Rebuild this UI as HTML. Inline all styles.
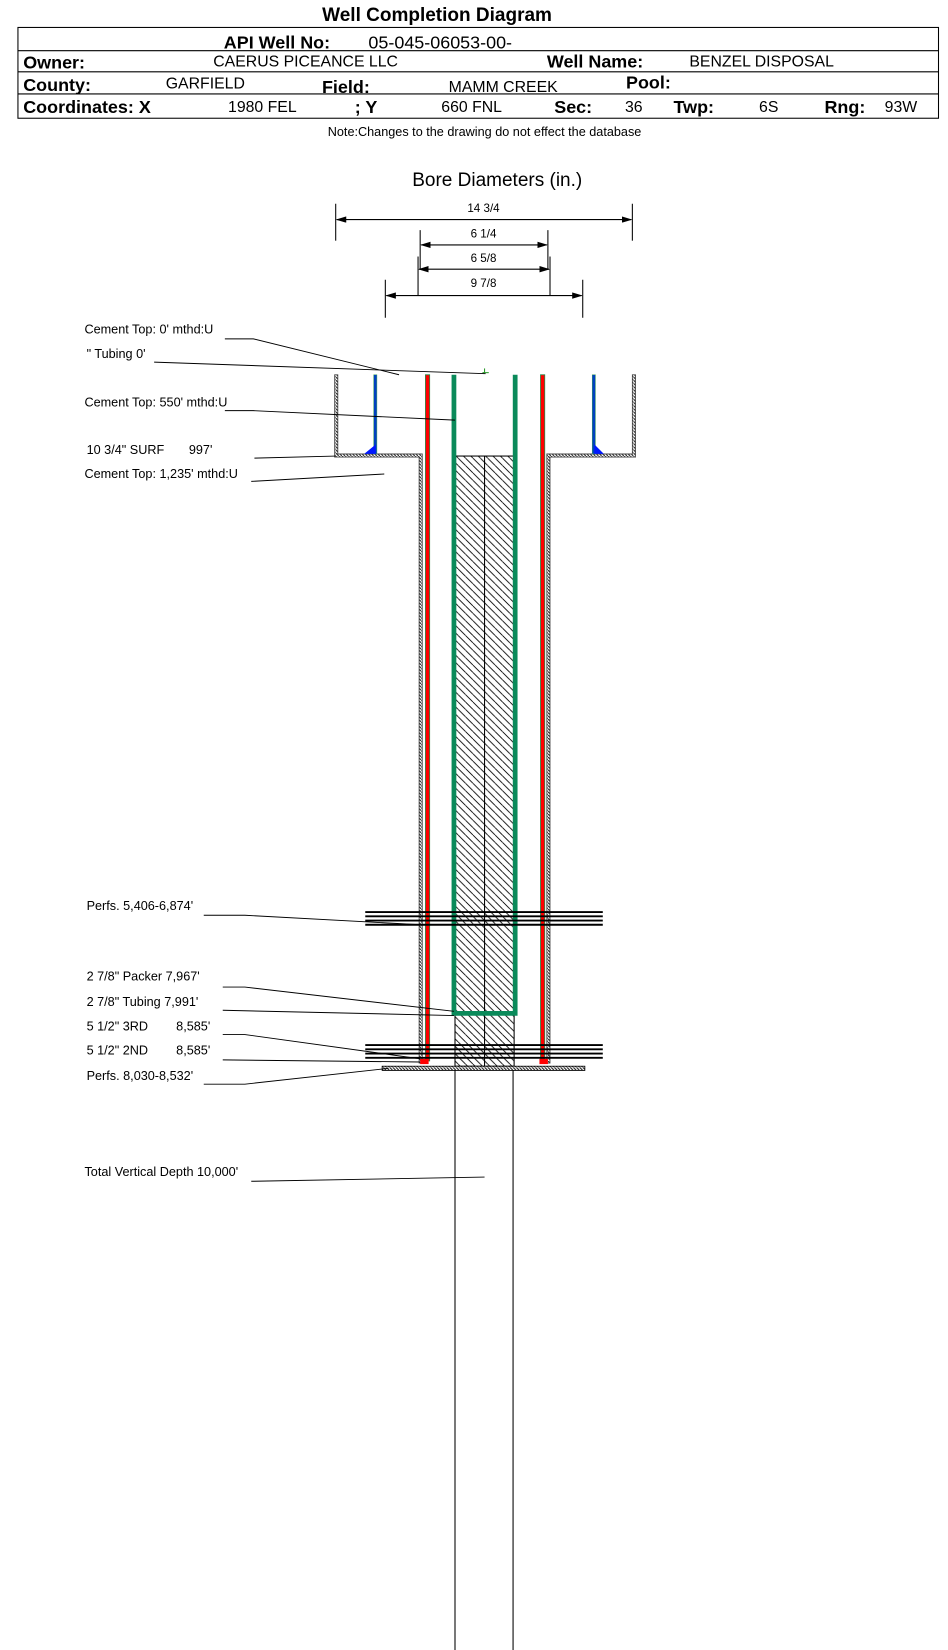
<!DOCTYPE html>
<html><head><meta charset="utf-8"><style>
html,body{margin:0;padding:0;background:#fff;}
svg{display:block;}
text{font-family:"Liberation Sans",sans-serif;fill:#000;}
.b{font-weight:bold;}
</style></head><body>
<svg width="948" height="1650" viewBox="0 0 898 1563" preserveAspectRatio="none" xmlns="http://www.w3.org/2000/svg">
<defs>
<pattern id="h" width="7" height="7" patternUnits="userSpaceOnUse">
<rect width="7" height="7" fill="#fff"/>
<path d="M-1,-1 L8,8 M-4,3 L0,7 M3,-4 L7,0" stroke="#000" stroke-width="0.8"/>
</pattern>
<pattern id="w" width="3" height="3" patternUnits="userSpaceOnUse">
<rect width="3" height="3" fill="#fff"/>
<path d="M0,0 L3,3" stroke="#222" stroke-width="1.1"/>
</pattern>
<marker id="a" markerWidth="10" markerHeight="6" refX="9" refY="3" orient="auto" markerUnits="userSpaceOnUse"><path d="M0,0 L10,3 L0,6z" fill="#000"/></marker>
<marker id="s" markerWidth="10" markerHeight="6" refX="1" refY="3" orient="auto" markerUnits="userSpaceOnUse"><path d="M10,0 L0,3 L10,6z" fill="#000"/></marker>
</defs>

<text x="414" y="20" font-size="18" class="b" text-anchor="middle">Well Completion Diagram</text>
<g fill="none" stroke="#000" stroke-width="1">
<rect x="17" y="26" width="872" height="86"/>
<line x1="17" y1="48" x2="889" y2="48"/>
<line x1="17" y1="68" x2="889" y2="68"/>
<line x1="17" y1="89" x2="889" y2="89"/>
</g>
<text x="212" y="46" font-size="17" class="b">API Well No:</text>
<text x="349" y="46" font-size="17">05-045-06053-00-</text>
<text x="22" y="65" font-size="17" class="b">Owner:</text>
<text x="202" y="63" font-size="15">CAERUS PICEANCE LLC</text>
<text x="518" y="64" font-size="17" class="b">Well Name:</text>
<text x="653" y="63" font-size="15">BENZEL DISPOSAL</text>
<text x="22" y="86" font-size="17" class="b">County:</text>
<text x="157" y="84" font-size="15">GARFIELD</text>
<text x="305" y="88" font-size="17" class="b">Field:</text>
<text x="425" y="87" font-size="15">MAMM CREEK</text>
<text x="593" y="84" font-size="17" class="b">Pool:</text>
<text x="22" y="107" font-size="17" class="b">Coordinates: X</text>
<text x="216" y="106" font-size="15">1980 FEL</text>
<text x="336" y="107" font-size="17" class="b">; Y</text>
<text x="418" y="106" font-size="15">660 FNL</text>
<text x="525" y="107" font-size="17" class="b">Sec:</text>
<text x="592" y="106" font-size="15">36</text>
<text x="638" y="107" font-size="17" class="b">Twp:</text>
<text x="719" y="106" font-size="15">6S</text>
<text x="781" y="107" font-size="17" class="b">Rng:</text>
<text x="838" y="106" font-size="15">93W</text>
<text x="459" y="129" font-size="12" text-anchor="middle">Note:Changes to the drawing do not effect the database</text>

<text x="471" y="176" font-size="18" text-anchor="middle">Bore Diameters (in.)</text>
<g stroke="#000" stroke-width="1" font-size="11">
<line x1="318" y1="193" x2="318" y2="228"/><line x1="599" y1="193" x2="599" y2="228"/>
<line x1="319" y1="208" x2="598" y2="208" marker-end="url(#a)" marker-start="url(#s)"/>
<line x1="398" y1="218" x2="398" y2="255"/><line x1="519" y1="218" x2="519" y2="255"/>
<line x1="399" y1="232" x2="518" y2="232" marker-end="url(#a)" marker-start="url(#s)"/>
<line x1="396" y1="243" x2="396" y2="280"/><line x1="521" y1="243" x2="521" y2="280"/>
<line x1="397" y1="255" x2="520" y2="255" marker-end="url(#a)" marker-start="url(#s)"/>
<line x1="365" y1="265" x2="365" y2="301"/><line x1="552" y1="265" x2="552" y2="301"/>
<line x1="366" y1="280" x2="551" y2="280" marker-end="url(#a)" marker-start="url(#s)"/>
</g>
<g font-size="11" text-anchor="middle">
<text x="458" y="201">14 3/4</text>
<text x="458" y="225">6 1/4</text>
<text x="458" y="248">6 5/8</text>
<text x="458" y="272">9 7/8</text>
</g>

<rect x="431" y="432" width="56" height="578" fill="url(#h)" stroke="#000" stroke-width="1"/>
<line x1="459" y1="432" x2="459" y2="1010" stroke="#000"/>
<path d="M317,355 L317,433 L397,433 L397,1007 L400,1007 L400,430 L320,430 L320,355Z" fill="url(#w)" stroke="#444" stroke-width="0.8"/>
<path d="M602,355 L602,433 L521,433 L521,1007 L518,1007 L518,430 L599,430 L599,355Z" fill="url(#w)" stroke="#444" stroke-width="0.8"/>
<rect x="354" y="355" width="3" height="75" fill="#0040c0" stroke="#3a9a5a" stroke-width="0.5"/>
<path d="M345,430 L356,421 L356,430Z" fill="#0018ff"/>
<rect x="561" y="355" width="3" height="75" fill="#0040c0" stroke="#3a9a5a" stroke-width="0.5"/>
<path d="M563,421 L572,430 L563,430Z" fill="#0018ff"/>
<rect x="403" y="355" width="4" height="650" fill="#ff0000" stroke="#2a8a4a" stroke-width="0.8"/>
<rect x="512" y="355" width="4" height="650" fill="#ff0000" stroke="#2a8a4a" stroke-width="0.8"/>
<rect x="398" y="1003" width="8" height="5" fill="#ff0000"/>
<rect x="511" y="1003" width="8" height="5" fill="#ff0000"/>
<path d="M430,355 L430,960 L488,960 L488,355" fill="none" stroke="#0a8a5a" stroke-width="4.5"/>
<line x1="457" y1="353" x2="463" y2="353" stroke="#2a9a2a"/>
<line x1="459" y1="349" x2="459" y2="353" stroke="#2a9a2a"/>
<g stroke="#000" stroke-width="1.8">
<line x1="346" y1="864" x2="571" y2="864"/><line x1="346" y1="868" x2="571" y2="868"/>
<line x1="346" y1="872" x2="571" y2="872"/><line x1="346" y1="876" x2="571" y2="876"/>
<line x1="346" y1="990" x2="571" y2="990"/><line x1="346" y1="994" x2="571" y2="994"/>
<line x1="346" y1="998" x2="571" y2="998"/><line x1="346" y1="1002" x2="571" y2="1002"/>
</g>
<rect x="362" y="1010" width="192" height="4" fill="url(#w)" stroke="#000" stroke-width="0.8"/>
<line x1="431" y1="1014" x2="431" y2="1563" stroke="#000"/>
<line x1="486" y1="1014" x2="486" y2="1563" stroke="#000"/>

<g font-size="12">
<text x="80" y="316">Cement Top: 0' mthd:U</text>
<text x="82" y="339">" Tubing 0'</text>
<text x="80" y="385">Cement Top: 550' mthd:U</text>
<text x="82" y="430">10 3/4" SURF&#160;&#160;&#160;&#160;&#160;&#160;&#160;997'</text>
<text x="80" y="453">Cement Top: 1,235' mthd:U</text>
<text x="82" y="862">Perfs. 5,406-6,874'</text>
<text x="82" y="929">2 7/8" Packer 7,967'</text>
<text x="82" y="953">2 7/8" Tubing 7,991'</text>
<text x="82" y="976">5 1/2" 3RD&#160;&#160;&#160;&#160;&#160;&#160;&#160;&#160;8,585'</text>
<text x="82" y="999">5 1/2" 2ND&#160;&#160;&#160;&#160;&#160;&#160;&#160;&#160;8,585'</text>
<text x="82" y="1023">Perfs. 8,030-8,532'</text>
<text x="80" y="1114">Total Vertical Depth 10,000'</text>
</g>
<g stroke="#000" stroke-width="0.9" fill="none">
<polyline points="213,321 240,321 378,355"/>
<polyline points="146,343 460,354"/>
<polyline points="213,389 240,389 431,398"/>
<polyline points="241,434 318,432"/>
<polyline points="238,456 364,449"/>
<polyline points="193,867 232,867 398,876"/>
<polyline points="211,935 232,935 430,958"/>
<polyline points="211,957 430,962"/>
<polyline points="211,980 232,980 398,1003"/>
<polyline points="211,1004 398,1006"/>
<polyline points="193,1027 232,1027 368,1012"/>
<polyline points="238,1119 459,1115"/>
</g>
</svg>
</body></html>
